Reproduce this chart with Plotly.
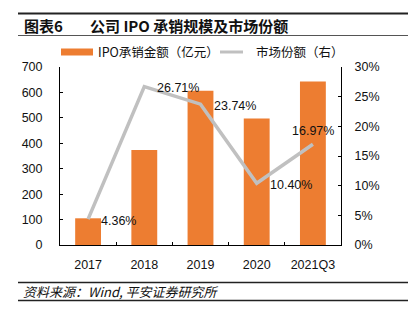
import plotly.graph_objects as go

categories = ["2017", "2018", "2019", "2020", "2021Q3"]
ipo_amount = [105, 374, 607, 497, 643]          # 亿元
market_share = [4.36, 26.71, 23.74, 10.40, 16.97]  # %
share_labels = ["4.36%", "26.71%", "23.74%", "10.40%", "16.97%"]
left_ticks = [0, 100, 200, 300, 400, 500, 600, 700]
right_ticks = [0, 5, 10, 15, 20, 25, 30]
right_tick_text = ["0%", "5%", "10%", "15%", "20%", "25%", "30%"]

ORANGE = "#ED7D31"
GRAY = "#C0C0C0"
FONT = "Liberation Sans, Arial, Noto Sans CJK SC, sans-serif"
CJK = "Noto Sans CJK SC, sans-serif"

fig = go.Figure()
fig.add_trace(go.Bar(x=categories, y=ipo_amount, marker=dict(color=ORANGE, line=dict(width=0)),
                     width=0.46, name="IPO承销金额（亿元）", showlegend=False))
fig.add_trace(go.Scatter(x=categories, y=market_share, yaxis="y2", mode="lines",
                         line=dict(color=GRAY, width=3.5),
                         name="市场份额（右）", showlegend=False, cliponaxis=False))

axis_common = dict(showgrid=False, zeroline=False, showline=True, linecolor="#000", linewidth=1,
                   ticks="inside", ticklen=3, tickcolor="#000",
                   tickfont=dict(size=12.5, color="#111", family=FONT))

fig.update_layout(
    width=409, height=329,
    margin=dict(l=60, r=68, t=67, b=84),
    paper_bgcolor="white", plot_bgcolor="white",
    xaxis=dict(**axis_common, type="category", ticklabelstandoff=8, tickson="boundaries",
               range=[-0.5, len(categories) - 0.5]),
    yaxis=dict(**axis_common, range=[0, 700], tickvals=left_ticks, ticklabelstandoff=14),
    yaxis2=dict(**axis_common, range=[0, 30], tickvals=right_ticks, ticktext=right_tick_text,
                overlaying="y", side="right", ticklabelstandoff=10),
)

def hline(y, x0, x1, w, c):
    return dict(type="line", xref="paper", yref="paper",
                x0=(x0-60)/281, x1=(x1-60)/281,
                y0=(245-y)/178, y1=(245-y)/178, line=dict(color=c, width=w))

shapes = [
    hline(13.5, 18, 408, 1.8, "#222"),
    hline(35.5, 18, 408, 1.2, "#555"),
    hline(282.5, 18, 408, 1.3, "#222"),
    hline(300.5, 18, 408, 1.3, "#222"),
    dict(type="rect", xref="paper", yref="paper", x0=(61-60)/281, x1=(93-60)/281,
         y0=(245-55.5)/178, y1=(245-48.5)/178, fillcolor=ORANGE, line=dict(width=0)),
    hline(52, 220, 243, 3, GRAY),
]

def pa(text, x, y, size, bold=False, italic=False):
    t = text
    if bold:
        t = "<b>" + t + "</b>"
    if italic:
        t = "<i>" + t + "</i>"
    return dict(text=t, x=(x-60)/281, y=(245-y)/178, xref="paper", yref="paper",
                xanchor="left", yanchor="middle", showarrow=False,
                font=dict(size=size, family=CJK, color="#111"))

annotations = [
    pa("图表6", 22, 25, 15, bold=True),
    pa("公司 IPO 承销规模及市场份额", 88, 25, 15, bold=True),
    pa("IPO承销金额（亿元）", 96, 52, 12.5),
    pa("市场份额（右）", 254, 52, 12.5),
    pa("资料来源：Wind, 平安证券研究所", 21, 291.5, 13, italic=True),
]

# data labels for market share (x = category index on the category axis)
for i, (v, lab) in enumerate(zip(market_share, share_labels)):
    if i == len(categories) - 1:
        annotations.append(dict(text=lab, x=i, y=v, xref="x", yref="y2", xanchor="center",
                                yanchor="bottom", yshift=4, showarrow=False,
                                font=dict(size=12.5, family=FONT, color="#111")))
    else:
        annotations.append(dict(text=lab, x=i, y=v, xref="x", yref="y2", xanchor="left",
                                yanchor="middle", xshift=11, yshift=-1.5, showarrow=False,
                                font=dict(size=12.5, family=FONT, color="#111")))

fig.update_layout(shapes=shapes, annotations=annotations)

fig.write_html("out.html")
